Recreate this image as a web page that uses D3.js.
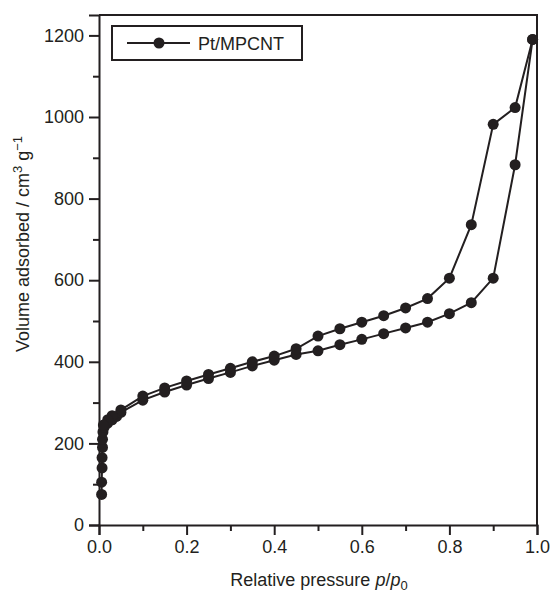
<!DOCTYPE html>
<html lang="en">
<head>
<meta charset="UTF-8">
<title>Pt/MPCNT isotherm</title>
<style>
  body, html { margin: 0; padding: 0; background: #fff; }
  svg { display: block; font-family: "Liberation Sans", Arial, sans-serif; }
</style>
</head>
<body>
<svg id="chart" width="554" height="592"></svg>
<script src="https://d3js.org/d3.v7.min.js"></script>
<script>
// adsorption branch (lower)
var adsP = [0.006, 0.006, 0.007, 0.007, 0.008, 0.008, 0.009, 0.012, 0.02, 0.03, 0.04, 0.05,
  0.1, 0.15, 0.2, 0.25, 0.3, 0.35, 0.4, 0.45, 0.5, 0.55, 0.6, 0.65, 0.7, 0.75, 0.8, 0.85, 0.9, 0.95, 0.99];
var adsV = [75, 105, 140, 165, 190, 210, 228, 240, 250, 258, 266, 276,
  306, 326, 343, 359, 374, 390, 404, 418, 427, 442, 455, 469, 483, 497, 518, 545, 605, 883, 1190];
// desorption branch (upper)
var desP = [0.99, 0.95, 0.9, 0.85, 0.8, 0.75, 0.7, 0.65, 0.6, 0.55, 0.5, 0.45, 0.4, 0.35, 0.3,
  0.25, 0.2, 0.15, 0.1, 0.05, 0.03, 0.02, 0.01];
var desV = [1190, 1023, 982, 736, 605, 555, 532, 513, 497, 481, 463, 432, 414, 400, 384,
  369, 353, 336, 316, 282, 268, 258, 245];

var xTicks = [0, 0.2, 0.4, 0.6, 0.8, 1.0];
var xMinor = [0.1, 0.3, 0.5, 0.7, 0.9];
var yTicks = [0, 200, 400, 600, 800, 1000, 1200];
var yMinor = [100, 300, 500, 700, 900, 1100];
var seriesName = "Pt/MPCNT";

var ink = "#231f20";
var svg = d3.select("#chart");
var x = d3.scaleLinear().domain([0, 1]).range([99, 537]);
var y = d3.scaleLinear().domain([0, 1250]).range([525, 15]);

// frame (top + right)
svg.append("path")
  .attr("d", "M" + x(0) + "," + y(1250) + "H" + x(1) + "V" + y(0))
  .attr("fill", "none").attr("stroke", ink).attr("stroke-width", 2);

// axes
var xAxis = svg.append("g").attr("transform", "translate(0," + y(0) + ")")
  .call(d3.axisBottom(x).tickValues(xTicks).tickFormat(d3.format(".1f")).tickSize(10).tickPadding(5));
var xAxisMinor = svg.append("g").attr("transform", "translate(0," + y(0) + ")")
  .call(d3.axisBottom(x).tickValues(xMinor).tickFormat("").tickSize(6));
var yAxis = svg.append("g").attr("transform", "translate(" + x(0) + ",0)")
  .call(d3.axisLeft(y).tickValues(yTicks).tickFormat(d3.format("d")).tickSize(10).tickPadding(5));
var yAxisMinor = svg.append("g").attr("transform", "translate(" + x(0) + ",0)")
  .call(d3.axisLeft(y).tickValues(yMinor).tickFormat("").tickSize(6));

[xAxis, xAxisMinor, yAxis, yAxisMinor].forEach(function (g) {
  g.select(".domain").attr("stroke", ink).attr("stroke-width", 2);
  g.selectAll(".tick line").attr("stroke", ink).attr("stroke-width", 2);
  g.selectAll(".tick text").attr("fill", ink).attr("font-size", 18)
    .attr("font-family", "Liberation Sans, Arial, sans-serif");
});
xAxisMinor.select(".domain").remove();
yAxisMinor.select(".domain").remove();

// axis titles
var xt = svg.append("text").attr("x", 319).attr("y", 586).attr("text-anchor", "middle")
  .attr("font-size", 18).attr("fill", ink);
xt.append("tspan").text("Relative pressure ");
xt.append("tspan").attr("font-style", "italic").text("p");
xt.append("tspan").text("/");
xt.append("tspan").attr("font-style", "italic").text("p");
xt.append("tspan").attr("font-size", 13).attr("dy", 4).text("0");

var yt = svg.append("text").attr("transform", "translate(29,244) rotate(-90)")
  .attr("text-anchor", "middle").attr("font-size", 18).attr("fill", ink);
yt.append("tspan").text("Volume adsorbed / cm");
yt.append("tspan").attr("font-size", 13).attr("dy", -7).text("3");
yt.append("tspan").attr("dy", 7).text(" g");
yt.append("tspan").attr("font-size", 13).attr("dy", -7).text("\u22121");

// series
var line = d3.line().x(function (d) { return x(d[0]); }).y(function (d) { return y(d[1]); });
[[adsP, adsV], [desP, desV]].forEach(function (s) {
  var pts = s[0].map(function (p, i) { return [p, s[1][i]]; });
  svg.append("path").datum(pts).attr("d", line)
    .attr("fill", "none").attr("stroke", ink).attr("stroke-width", 2);
  svg.append("g").selectAll("circle").data(pts).enter().append("circle")
    .attr("cx", function (d) { return x(d[0]); })
    .attr("cy", function (d) { return y(d[1]); })
    .attr("r", 5.5).attr("fill", ink);
});

// legend
var lg = svg.append("g");
lg.append("rect").attr("x", 112).attr("y", 26).attr("width", 190).attr("height", 34)
  .attr("fill", "#fff").attr("stroke", ink).attr("stroke-width", 2);
lg.append("line").attr("x1", 127).attr("x2", 190).attr("y1", 43).attr("y2", 43)
  .attr("stroke", ink).attr("stroke-width", 2);
lg.append("circle").attr("cx", 159).attr("cy", 43).attr("r", 5.5).attr("fill", ink);
lg.append("text").attr("x", 198).attr("y", 49.5).attr("font-size", 18).attr("fill", ink)
  .text(seriesName);
</script>
</body>
</html>
